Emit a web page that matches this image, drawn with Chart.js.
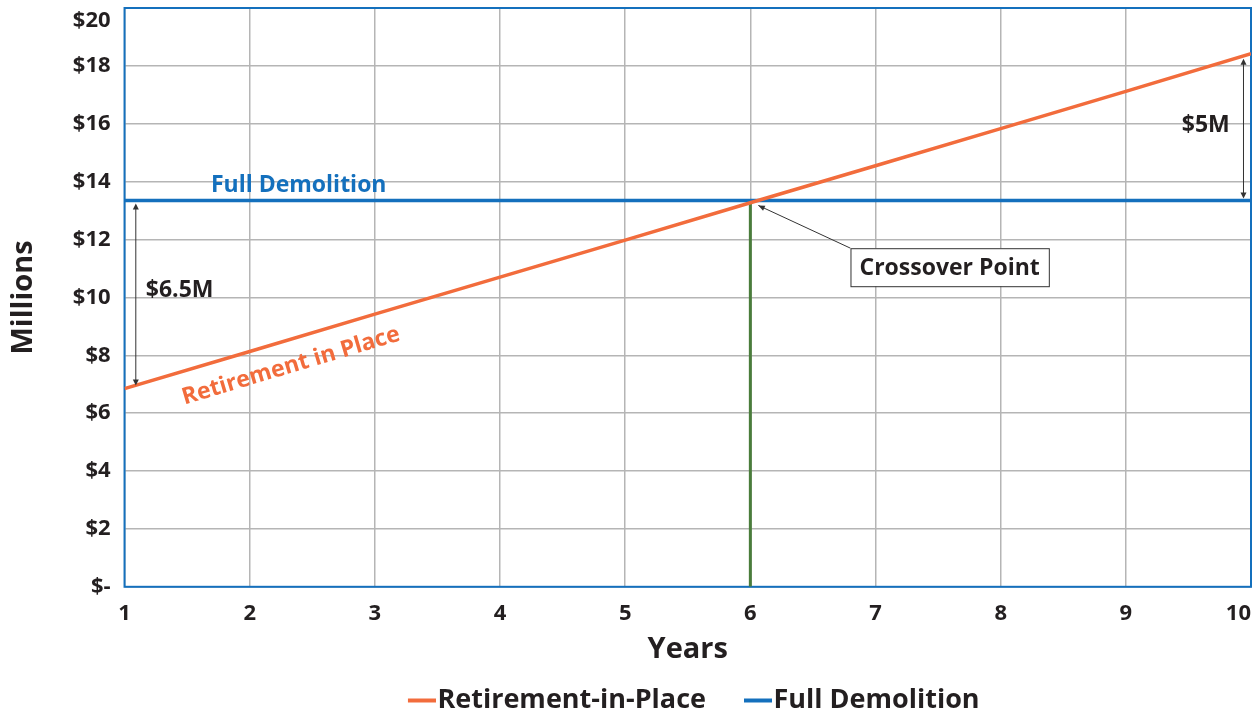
<!DOCTYPE html>
<html>
<head>
<meta charset="utf-8">
<script src="https://cdn.jsdelivr.net/npm/chart.js@4/dist/chart.umd.min.js"></script>
<style>
  body { margin: 0; background: #fff; }
  #wrap { width: 1257px; height: 713px; }
</style>
</head>
<body>
<div id="wrap"><canvas id="costChart" width="1257" height="713"></canvas></div>
<script>
const years = [1, 2, 3, 4, 5, 6, 7, 8, 9, 10];
const retirementInPlace = [6.85, 8.13, 9.42, 10.7, 11.98, 13.27, 14.55, 15.83, 17.12, 18.42];
const fullDemolition = [13.35, 13.35, 13.35, 13.35, 13.35, 13.35, 13.35, 13.35, 13.35, 13.35];
const crossoverYear = 6;
const crossoverValue = 13.35;
const yTicks = [0, 2, 4, 6, 8, 10, 12, 14, 16, 18, 20];

const ORANGE = '#f26c3c';
const BLUE = '#1470bd';
const GREEN = '#4a7d3b';
const DARK = '#231f20';
const FONT = 'Open Sans';

// legend marker: short line sitting at the right side of the image, so it hugs the text
function legendLine(color) {
    const c = document.createElement('canvas');
    c.width = 52;
    c.height = 6;
    const g = c.getContext('2d');
    g.fillStyle = color;
    g.fillRect(24, 1, 28, 4);
    return c;
}

function drawDoubleArrow(ctx, x, y1, y2) {
    ctx.save();
    ctx.strokeStyle = '#333';
    ctx.fillStyle = '#333';
    ctx.lineWidth = 1;
    ctx.beginPath();
    ctx.moveTo(x, y1 + 2);
    ctx.lineTo(x, y2 - 2);
    ctx.stroke();
    [[y1, 1], [y2, -1]].forEach(([y, dir]) => {
        ctx.beginPath();
        ctx.moveTo(x, y);
        ctx.lineTo(x - 3, y + dir * 6);
        ctx.lineTo(x + 3, y + dir * 6);
        ctx.closePath();
        ctx.fill();
    });
    ctx.restore();
}

const annotationsPlugin = {
    id: 'chartNotes',
    beforeDatasetsDraw(chart) {
        // blue frame around the plot
        const { ctx, chartArea: a } = chart;
        ctx.save();
        ctx.strokeStyle = BLUE;
        ctx.lineWidth = 2;
        ctx.strokeRect(a.left, a.top, a.right - a.left, a.bottom - a.top);
        ctx.restore();
    },
    afterDatasetsDraw(chart) {
        const { ctx } = chart;
        const xs = chart.scales.x, ys = chart.scales.y;
        const px = v => xs.getPixelForValue(v);
        const py = v => ys.getPixelForValue(v);

        ctx.save();
        ctx.font = `bold 23px "${FONT}"`;
        ctx.textBaseline = 'alphabetic';

        // series labels
        ctx.fillStyle = BLUE;
        ctx.textAlign = 'left';
        ctx.fillText('Full Demolition', px(1.69), py(crossoverValue) - 8);

        const ang = Math.atan2(py(retirementInPlace[9]) - py(retirementInPlace[0]), px(10) - px(1));
        ctx.save();
        ctx.translate(px(1.48), py(6.3));
        ctx.rotate(ang);
        ctx.fillStyle = ORANGE;
        ctx.fillText('Retirement in Place', 0, 0);
        ctx.restore();

        // gap labels
        ctx.fillStyle = DARK;
        ctx.textBaseline = 'middle';
        ctx.fillText('$6.5M', px(1.17), py(10.25));
        ctx.textAlign = 'right';
        ctx.fillText('$5M', px(9.83), py(15.95));

        drawDoubleArrow(ctx, px(1.09), py(crossoverValue) + 3, py(retirementInPlace[0]) - 3);
        drawDoubleArrow(ctx, px(9.94), py(retirementInPlace[9]) + 5, py(crossoverValue) - 2);

        // crossover callout
        const bx = px(6.8), by = py(11.7);
        const label = 'Crossover Point';
        const w = ctx.measureText(label).width + 18;
        const h = 38;
        const ax = px(crossoverYear) + 8, ay = py(crossoverValue) + 5;
        ctx.strokeStyle = '#333';
        ctx.lineWidth = 1;
        ctx.beginPath();
        ctx.moveTo(bx, by);
        ctx.lineTo(ax, ay);
        ctx.stroke();
        const t = Math.atan2(by - ay, bx - ax);
        ctx.fillStyle = '#333';
        ctx.beginPath();
        ctx.moveTo(ax, ay);
        ctx.lineTo(ax + 7 * Math.cos(t - 0.4), ay + 7 * Math.sin(t - 0.4));
        ctx.lineTo(ax + 7 * Math.cos(t + 0.4), ay + 7 * Math.sin(t + 0.4));
        ctx.closePath();
        ctx.fill();

        ctx.fillStyle = '#fff';
        ctx.fillRect(bx, by, w, h);
        ctx.strokeRect(bx + 0.5, by + 0.5, w, h);
        ctx.fillStyle = DARK;
        ctx.textAlign = 'left';
        ctx.fillText(label, bx + 9, by + h / 2 + 1);
        ctx.restore();
    }
};

const ctx = document.getElementById('costChart').getContext('2d');
new Chart(ctx, {
    type: 'line',
    data: {
        datasets: [
            {
                label: 'Retirement-in-Place',
                data: years.map((y, i) => ({ x: y, y: retirementInPlace[i] })),
                borderColor: ORANGE,
                backgroundColor: ORANGE,
                borderWidth: 3.5,
                pointRadius: 0,
                pointStyle: legendLine(ORANGE),
                tension: 0
            },
            {
                label: 'Full Demolition',
                data: years.map((y, i) => ({ x: y, y: fullDemolition[i] })),
                borderColor: BLUE,
                backgroundColor: BLUE,
                borderWidth: 3.5,
                pointRadius: 0,
                pointStyle: legendLine(BLUE)
            },
            {
                label: 'crossover',
                data: [{ x: crossoverYear, y: 0 }, { x: crossoverYear, y: crossoverValue }],
                borderColor: GREEN,
                backgroundColor: GREEN,
                borderWidth: 3,
                pointRadius: 0
            }
        ]
    },
    options: {
        responsive: false,
        animation: false,
        layout: { padding: { left: 6, right: 6, top: 8, bottom: -11 } },
        plugins: {
            legend: {
                position: 'bottom',
                fullSize: false,
                labels: {
                    filter: item => item.text !== 'crossover',
                    usePointStyle: true,
                    pointStyleWidth: 28,
                    boxHeight: 4,
                    padding: 26,
                    color: DARK,
                    font: { size: 27, weight: 'bold', family: FONT }
                }
            },
            tooltip: { enabled: false }
        },
        scales: {
            x: {
                type: 'linear',
                min: 1,
                max: 10,
                grid: { color: '#b5b5b5', lineWidth: 1.5, drawTicks: false },
                border: { display: false },
                afterFit: scale => { scale.paddingRight = 0; },
                ticks: {
                    stepSize: 1,
                    padding: 14,
                    color: DARK,
                    font: { size: 22, weight: 'bold', family: FONT },
                    callback: v => v === 10 ? '10\u2007\u2007' : String(v)
                },
                title: {
                    display: true,
                    text: 'Years',
                    color: DARK,
                    padding: { top: -9, bottom: -6 },
                    font: { size: 29, weight: 'bold', family: FONT }
                }
            },
            y: {
                min: 0,
                max: 20,
                grid: { color: '#b5b5b5', lineWidth: 1.5, drawTicks: false },
                border: { display: false },
                afterBuildTicks: scale => { scale.ticks = yTicks.map(v => ({ value: v })); },
                afterFit: scale => { scale.paddingTop = 0; },
                ticks: {
                    autoSkip: false,
                    padding: 14,
                    color: DARK,
                    font: { size: 22, weight: 'bold', family: FONT },
                    callback: v => v === 0 ? '$-' : (v === 20 ? ['', '$20'] : '$' + v)
                },
                title: {
                    display: true,
                    text: 'Millions',
                    color: DARK,
                    padding: { top: 0, bottom: 18 },
                    font: { size: 29, weight: 'bold', family: FONT }
                }
            }
        }
    },
    plugins: [annotationsPlugin]
});
</script>
</body>
</html>
